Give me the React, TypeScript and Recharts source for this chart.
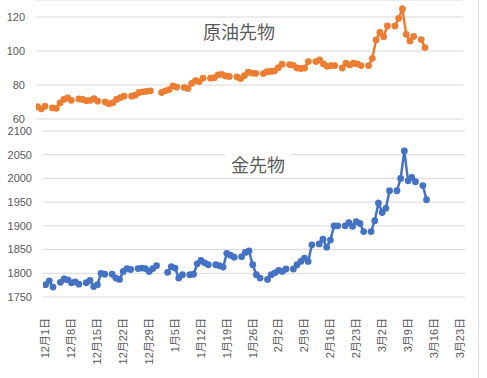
import { LineChart, Line, XAxis, YAxis, CartesianGrid } from 'recharts';

// one value per calendar day starting 2021-12-01; null = no quote (Saturdays, New Year)
const oilValues: (number | null)[] = [
  67.2, 66.0, 67.5, null,
  66.5, 66.3, 69.5, 71.5, 72.4, 71.0, null,
  71.8, 71.5, 70.8, 71.0, 72.0, 70.5, null,
  70.0, 69.0, 69.5, 71.5, 72.6, 73.4, null,
  73.4, 74.0, 75.6, 76.0, 76.3, 76.6, null,
  null, 75.6, 76.6, 77.3, 79.5, 78.7, null,
  78.6, 78.0, 81.0, 82.5, 82.0, 84.0, null,
  84.0, 84.3, 86.0, 86.3, 85.3, 85.0, null,
  84.7, 83.8, 85.5, 87.5, 87.0, 86.8, null,
  86.7, 87.8, 88.0, 88.3, 90.2, 92.2, null,
  92.0, 91.6, 90.0, 89.7, 90.0, 93.8, null,
  93.8, 94.8, 92.4, 91.0, 91.4, 91.4, null,
  90.0, 92.8, 91.8, 92.8, 92.4, 91.4, null,
  91.4, 95.7, 106.5, 111.0, 108.4, 114.7, null,
  114.7, 119.2, 124.7, 109.8, 105.9, 108.6, null,
  106.7, 102.0,
];

const goldValues: (number | null)[] = [
  1776, 1784, 1771, null,
  1781, 1788, 1786, 1780, 1782, 1777, null,
  1780, 1785, 1772, 1776, 1800, 1798, null,
  1798, 1790, 1787, 1804, 1810, 1808, null,
  1810, 1811, 1810, 1804, 1810, 1816, null,
  null, 1802, 1814, 1811, 1790, 1797, null,
  1797, 1798, 1820, 1827, 1822, 1818, null,
  1818, 1816, 1813, 1842, 1838, 1834, null,
  1835, 1844, 1847, 1818, 1797, 1790, null,
  1787, 1797, 1801, 1806, 1804, 1809, null,
  1809, 1818, 1825, 1832, 1825, 1860, null,
  1862, 1872, 1855, 1870, 1900, 1900, null,
  1900, 1907, 1899, 1909, 1905, 1888, null,
  1888, 1911, 1948, 1928, 1937, 1974, null,
  1974, 2000, 2058, 1995, 2002, 1993, null,
  1985, 1955,
];

const tickLabels = [
  '12月1日', '12月8日', '12月15日', '12月22日', '12月29日',
  '1月5日', '1月12日', '1月19日', '1月26日',
  '2月2日', '2月9日', '2月16日', '2月23日',
  '3月2日', '3月9日', '3月16日', '3月23日',
];

const oilTicks = [60, 80, 100, 120];
const goldTicks = [1750, 1800, 1850, 1900, 1950, 2000, 2050, 2100];

const DAY_MS = 86400000;
const START = Date.UTC(2021, 11, 1);

function labelToDay(label: string) {
  const m = label.match(/(\d+)月(\d+)日/)!;
  const month = Number(m[1]);
  const year = month === 12 ? 2021 : 2022;
  return (Date.UTC(year, month - 1, Number(m[2])) - START) / DAY_MS;
}

const tickDays = tickLabels.map(labelToDay);

const data = oilValues.map((v, i) => ({ day: i, oil: v, gold: goldValues[i] }));

const GRID = '#d9d9d9';
const TEXT = '#595959';
const ORANGE = '#ED7D31';
const BLUE = '#4472C4';
const FONT = "'Liberation Sans', 'Noto Sans CJK JP', sans-serif";

function DateTick(props: any) {
  const { x, y, payload } = props;
  const label = tickLabels[tickDays.indexOf(payload.value)];
  return (
    <g transform={`translate(${x},${y + 21})`}>
      <text transform="rotate(-90)" textAnchor="end" dy="0.35em" fill={TEXT} fontSize={11}>
        {label}
      </text>
    </g>
  );
}

const titleStyle = {
  position: 'absolute' as const,
  transform: 'translate(-50%, -50%)',
  background: '#fff',
  padding: '0 6px',
  fontSize: 18,
  lineHeight: '24px',
  color: TEXT,
  whiteSpace: 'nowrap' as const,
};

export default function App() {
  return (
    <div
      style={{
        position: 'fixed',
        left: 0,
        top: 0,
        width: 487,
        height: 378,
        background: '#fff',
        overflow: 'hidden',
        fontFamily: FONT,
      }}
    >
      <div style={{ position: 'absolute', left: 0, top: 120 }}>
        <LineChart width={487} height={258} data={data} margin={{ top: 11, right: 22, left: 0, bottom: 0 }}>
          <CartesianGrid vertical={false} stroke={GRID} />
          <XAxis
            dataKey="day"
            type="number"
            domain={[-0.7, 113.4]}
            ticks={tickDays}
            interval={0}
            height={81}
            axisLine={false}
            tickLine={false}
            tickSize={0}
            tickMargin={0}
            tick={<DateTick />}
            allowDataOverflow
          />
          <YAxis
            domain={[1750, 2100]}
            ticks={goldTicks}
            interval={0}
            width={43}
            axisLine={false}
            tickLine={false}
            tickSize={0}
            tickMargin={11}
            tick={{ fill: TEXT, fontSize: 11 }}
            allowDataOverflow
          />
          <Line
            dataKey="gold"
            stroke={BLUE}
            strokeWidth={2.5}
            dot={{ r: 3.4, fill: BLUE, stroke: BLUE, strokeWidth: 0 }}
            isAnimationActive={false}
          />
        </LineChart>
      </div>

      <div style={{ position: 'absolute', left: 0, top: 0 }}>
        <LineChart width={487} height={128} data={data} margin={{ top: 0, right: 24, left: 0, bottom: 9 }}>
          <CartesianGrid vertical={false} stroke={GRID} />
          <XAxis dataKey="day" type="number" domain={[-0.4, 113.1]} hide allowDataOverflow />
          <YAxis
            domain={[60, 130]}
            ticks={oilTicks}
            interval={0}
            width={36}
            axisLine={false}
            tickLine={false}
            tickSize={0}
            tickMargin={11}
            tick={{ fill: TEXT, fontSize: 11 }}
            allowDataOverflow
          />
          <Line
            dataKey="oil"
            stroke={ORANGE}
            strokeWidth={2.5}
            dot={{ r: 3.4, fill: ORANGE, stroke: ORANGE, strokeWidth: 0 }}
            isAnimationActive={false}
          />
        </LineChart>
      </div>

      <div style={{ ...titleStyle, left: 239, top: 33 }}>原油先物</div>
      <div style={{ ...titleStyle, left: 258, top: 166 }}>金先物</div>

      <div style={{ position: 'absolute', left: 478, top: 0, width: 1, height: 378, background: GRID }} />
    </div>
  );
}
